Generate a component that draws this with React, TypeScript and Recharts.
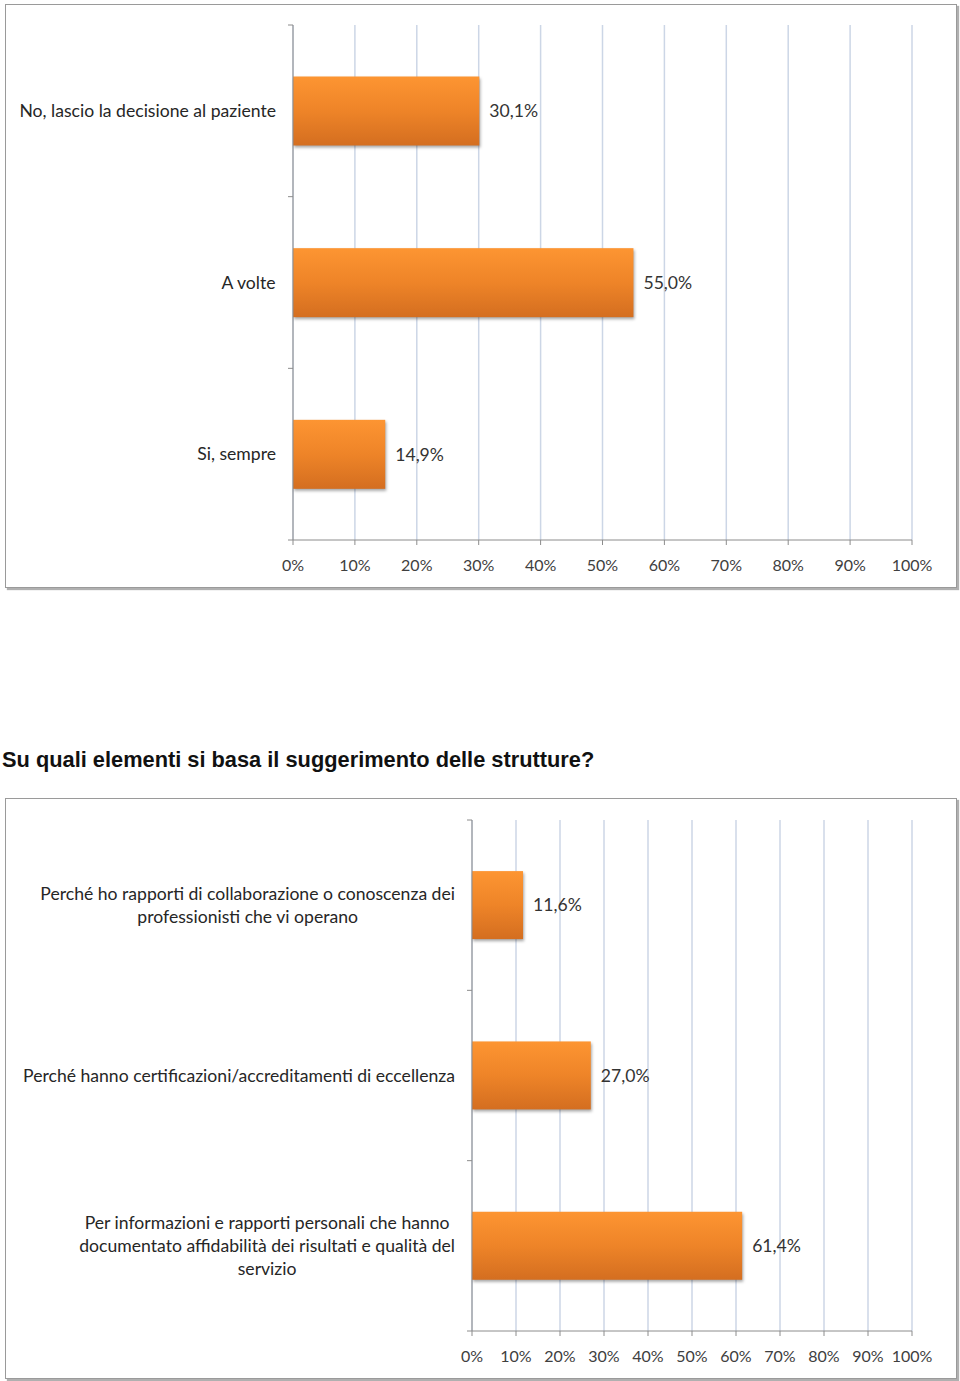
import React from "react";
import { BarChart, Bar, XAxis, YAxis, CartesianGrid, LabelList } from "recharts";

const categories1 = ["No, lascio la decisione al paziente", "A volte", "Si, sempre"];
const values1 = [30.1, 55.0, 14.9];

const categories2 = [
  "Perché ho rapporti di collaborazione o conoscenza dei\nprofessionisti che vi operano",
  "Perché hanno certificazioni/accreditamenti di eccellenza",
  "Per informazioni e rapporti personali che hanno\ndocumentato affidabilità dei risultati e qualità del\nservizio",
];
const values2 = [11.6, 27.0, 61.4];

const xTicks = [0, 10, 20, 30, 40, 50, 60, 70, 80, 90, 100];
const title2 = "Su quali elementi si basa il suggerimento delle strutture?";

const data1 = categories1.map((c, i) => ({ name: c, value: values1[i] }));
const data2 = categories2.map((c, i) => ({ name: c, value: values2[i] }));

const FONT = "Lato, 'Open Sans', sans-serif";
const FONT_SIZE = 17.6;
const TICK_SIZE = 16;
const LINE_H = 23;

let ctx: CanvasRenderingContext2D | null = null;
function measure(t: string): number {
  if (!ctx) {
    ctx = document.createElement("canvas").getContext("2d");
  }
  if (!ctx) return t.length * 8;
  ctx.font = `${FONT_SIZE}px Lato`;
  return ctx.measureText(t).width;
}

const fmtPct = (v: any) => `${Number(v).toFixed(1).replace(".", ",")}%`;

function makeCatTick(halfBand: number, count: number) {
  return (props: any) => {
    const { x, y, payload, index } = props;
    const axisX = x + 17;
    const lines = String(payload.value).split("\n");
    const maxW = Math.max(...lines.map(measure));
    const cx = x - maxW / 2;
    const startY = y - ((lines.length - 1) * LINE_H) / 2;
    return (
      <g>
        <line x1={axisX - 5} x2={axisX} y1={y - halfBand} y2={y - halfBand} stroke="#8c8c8c" />
        {index === count - 1 && (
          <line x1={axisX - 5} x2={axisX} y1={y + halfBand} y2={y + halfBand} stroke="#8c8c8c" />
        )}
        {lines.map((l, i) => (
          <text
            key={i}
            x={cx}
            y={startY + i * LINE_H}
            dy="0.35em"
            textAnchor="middle"
            fontFamily={FONT}
            fontSize={FONT_SIZE}
            fill="#262626"
          >
            {l}
          </text>
        ))}
      </g>
    );
  };
}

const BarShape = (props: any) => {
  const { x, y, width, height } = props;
  return (
    <rect
      x={x}
      y={y}
      width={width}
      height={height}
      fill="url(#barGrad)"
      style={{ filter: "drop-shadow(1px 2px 1.5px rgba(0,0,0,0.35))" }}
    />
  );
};

function Chart({
  data,
  width,
  height,
  yWidth,
  top,
  bottom,
}: {
  data: any[];
  width: number;
  height: number;
  yWidth: number;
  top: number;
  bottom: number;
}) {
  const plotH = height - top - bottom;
  const halfBand = plotH / data.length / 2;
  return (
    <BarChart
      width={width}
      height={height}
      data={data}
      layout="vertical"
      margin={{ top, right: 44, bottom: bottom - 30, left: 0 }}
      barCategoryGap="30%"
    >
      <defs>
        <linearGradient id="barGrad" x1="0" y1="0" x2="0" y2="1">
          <stop offset="0%" stopColor="#fd9532" />
          <stop offset="50%" stopColor="#ee8428" />
          <stop offset="100%" stopColor="#d46e20" />
        </linearGradient>
      </defs>
      <CartesianGrid horizontal={false} vertical={true} stroke="#ccd6e6" strokeWidth={1.5} />
      <XAxis
        type="number"
        domain={[0, 100]}
        ticks={xTicks}
        tickFormatter={(v: number) => `${v}%`}
        height={30}
        axisLine={{ stroke: "#8c8c8c" }}
        tickLine={{ stroke: "#8c8c8c" }}
        tickSize={5}
        tickMargin={15}
        tick={{ fontFamily: FONT, fontSize: TICK_SIZE, fill: "#404040" }}
        interval={0}
      />
      <YAxis
        type="category"
        dataKey="name"
        width={yWidth}
        axisLine={{ stroke: "#8c8c8c" }}
        tickLine={false}
        tickSize={5}
        tickMargin={12}
        tick={makeCatTick(halfBand, data.length)}
        interval={0}
      />
      <Bar dataKey="value" isAnimationActive={false} shape={<BarShape />}>
        <LabelList
          dataKey="value"
          position="right"
          offset={10}
          formatter={fmtPct}
          style={{ fontFamily: FONT, fontSize: FONT_SIZE, fill: "#333333" }}
        />
      </Bar>
    </BarChart>
  );
}

const frameStyle: React.CSSProperties = {
  position: "absolute",
  left: 5,
  width: 950,
  border: "1px solid #9a9a9a",
  boxShadow: "2px 2px 1px #b0b0b0",
  background: "#fff",
  boxSizing: "content-box",
};

export default function App() {
  return (
    <div style={{ position: "absolute", left: 0, top: 0, width: 960, height: 1381, background: "#fff" }}>
      <div style={{ ...frameStyle, top: 4, height: 582 }}>
        <Chart data={data1} width={950} height={582} yWidth={287} top={20} bottom={47} />
      </div>
      <div
        style={{
          position: "absolute",
          left: 2,
          top: 745,
          fontFamily: "'Liberation Sans', Arial, sans-serif",
          fontWeight: "bold",
          fontSize: 21.8,
          color: "#111",
          whiteSpace: "nowrap",
          lineHeight: "30px",
        }}
      >
        {title2}
      </div>
      <div style={{ ...frameStyle, top: 798, height: 579 }}>
        <Chart data={data2} width={950} height={579} yWidth={466} top={21} bottom={47} />
      </div>
    </div>
  );
}
